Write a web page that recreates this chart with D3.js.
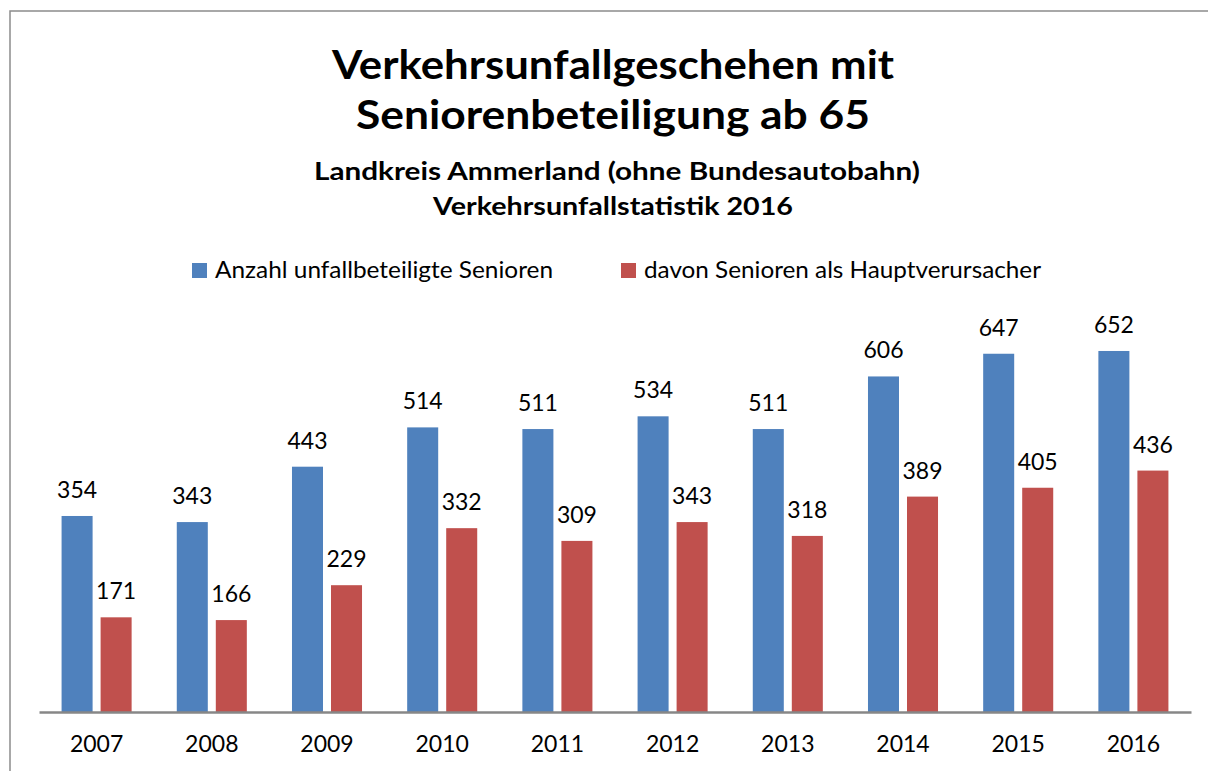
<!DOCTYPE html>
<html>
<head>
<meta charset="utf-8">
<script src="https://cdnjs.cloudflare.com/ajax/libs/d3/7.8.5/d3.min.js"></script>
<style>
  body { margin: 0; background: #fff; }
  text { font-family: Lato, "Open Sans", sans-serif; fill: #000; }
</style>
</head>
<body>
<div id="vis"></div>
<script>
// data
var years = ["2007", "2008", "2009", "2010", "2011", "2012", "2013", "2014", "2015", "2016"];
var seriesNames = ["Anzahl unfallbeteiligte Senioren", "davon Senioren als Hauptverursacher"];
var beteiligte = [354, 343, 443, 514, 511, 534, 511, 606, 647, 652];
var verursacher = [171, 166, 229, 332, 309, 343, 318, 389, 405, 436];
var titleLines = ["Verkehrsunfallgeschehen mit", "Seniorenbeteiligung ab 65"];
var subtitleLines = ["Landkreis Ammerland (ohne Bundesautobahn)", "Verkehrsunfallstatistik 2016"];

var width = 1208;
var height = 771;
var colors = ["#4f81bd", "#c0504d"];

// text widths measured on the reference (the original font is wider than Lato)
var titleWidths = [562, 514];
var subtitleWidths = [606, 360];
var subtitleX = [617, 613];
var legendWidths = [338, 397];

var svg = d3.select("#vis")
            .append("svg")
            .attr("width", width)
            .attr("height", height);

// frame of the chart area
svg.append("rect")
        .attr("x", 10)
        .attr("y", 11)
        .attr("width", width)
        .attr("height", height)
        .attr("fill", "none")
        .attr("stroke", "#8c8c8c")
        .attr("stroke-width", 1.5);

// titles
svg.selectAll(".title")
        .data(titleLines)
        .enter().append("text")
        .attr("class", "title")
        .attr("x", 613)
        .attr("y", function(d, i) { return 79 + i * 50; })
        .attr("text-anchor", "middle")
        .attr("textLength", function(d, i) { return titleWidths[i]; })
        .attr("lengthAdjust", "spacingAndGlyphs")
        .style("font-size", "41px")
        .style("font-weight", "bold")
        .text(function(d) { return d; });

svg.selectAll(".subtitle")
        .data(subtitleLines)
        .enter().append("text")
        .attr("class", "subtitle")
        .attr("x", function(d, i) { return subtitleX[i]; })
        .attr("y", function(d, i) { return 180 + i * 35; })
        .attr("text-anchor", "middle")
        .attr("textLength", function(d, i) { return subtitleWidths[i]; })
        .attr("lengthAdjust", "spacingAndGlyphs")
        .style("font-size", "24px")
        .style("font-weight", "bold")
        .text(function(d) { return d; });

// legend
var legendX = [192, 621];
var legend = svg.selectAll(".legend")
        .data(seriesNames)
        .enter().append("g")
        .attr("class", "legend")
        .attr("transform", function(d, i) { return "translate(" + legendX[i] + ",263)"; });

legend.append("rect")
        .attr("width", 15)
        .attr("height", 15)
        .attr("fill", function(d, i) { return colors[i]; });

legend.append("text")
        .attr("x", 23)
        .attr("y", 15)
        .attr("textLength", function(d, i) { return legendWidths[i]; })
        .attr("lengthAdjust", "spacingAndGlyphs")
        .style("font-size", "23px")
        .text(function(d) { return d; });

// scales
var x0 = d3.scaleBand()
        .domain(years)
        .range([39, 1191])
        .paddingInner(0.392)
        .paddingOuter(0.196);

var x1 = d3.scaleBand()
        .domain([0, 1])
        .range([0, x0.bandwidth()])
        .paddingInner(8 / 39);

var y = d3.scaleLinear()
        .domain([0, 700])
        .range([712, 324.4]);

var rows = years.map(function(yr, i) {
  return { year: yr, values: [beteiligte[i], verursacher[i]] };
});

var groups = svg.selectAll(".group")
        .data(rows)
        .enter().append("g")
        .attr("class", "group")
        .attr("transform", function(d) { return "translate(" + x0(d.year) + ",0)"; });

groups.selectAll("rect")
        .data(function(d) { return d.values; })
        .enter().append("rect")
        .attr("x", function(d, i) { return x1(i); })
        .attr("y", function(d) { return y(d); })
        .attr("width", x1.bandwidth())
        .attr("height", function(d) { return y(0) - y(d); })
        .attr("fill", function(d, i) { return colors[i]; });

groups.selectAll(".val")
        .data(function(d) { return d.values; })
        .enter().append("text")
        .attr("class", "val")
        .attr("x", function(d, i) { return x1(i) + x1.bandwidth() / 2; })
        .attr("y", function(d) { return y(d) - 18; })
        .attr("text-anchor", "middle")
        .style("font-size", "23px")
        .text(function(d) { return d; });

// x axis
var xAxis = d3.axisBottom(x0).tickSize(0).tickPadding(24);

var axisG = svg.append("g")
        .attr("transform", "translate(0,712)")
        .call(xAxis);

axisG.select(".domain")
        .attr("stroke", "#878787")
        .attr("stroke-width", 2.5);

axisG.selectAll("text")
        .style("font-family", "Lato, 'Open Sans', sans-serif")
        .style("font-size", "23px")
        .attr("fill", "#000");
</script>
</body>
</html>
